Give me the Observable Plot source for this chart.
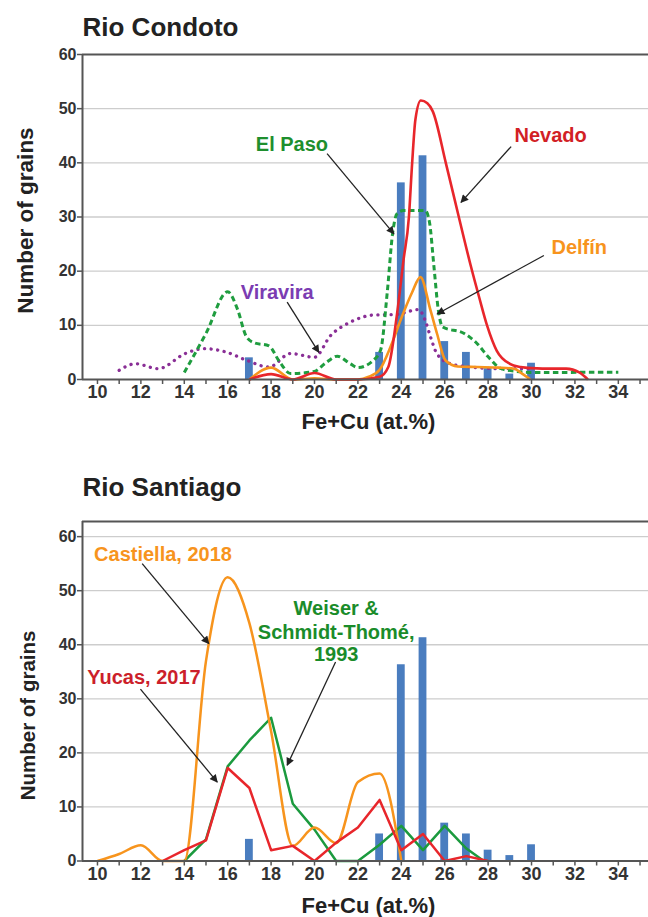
<!DOCTYPE html>
<html><head><meta charset="utf-8">
<script src="https://cdn.jsdelivr.net/npm/d3@7"></script>
<script src="https://cdn.jsdelivr.net/npm/@observablehq/plot@0.6"></script>
<style>
body{margin:0;background:#fff;}
#wrap{position:relative;width:648px;height:917px;overflow:hidden;font-family:"Liberation Sans",Arial,sans-serif;}
#top{position:absolute;left:0;top:0;}
#bot{position:absolute;left:0;top:440px;}
</style></head><body><div id="wrap"><div id="top"></div><div id="bot"></div></div>
<script>
// ---------- data ----------
const histX = [17, 23, 24, 25, 26, 27, 28, 29, 30];
const histN = [4, 5, 36.3, 41.3, 7, 5, 2, 1, 3];

const xTicks = d3.range(10, 36);
const yTicks = [0, 10, 20, 30, 40, 50, 60];
const gridTop = [10, 20, 30, 40, 50];
const gridBot = [10, 20, 30, 40, 50, 60];

// Rio Condoto (smoothed curves)
const nevado = [[17,0],[18,1],[19,0],[20,1.2],[21,0],[22,0],[23,0.5],[23.4,2.3],[23.8,12],[24.1,22],[24.35,30],[24.5,40],[24.65,48],[24.9,51.5],[25.2,51],[25.45,49.5],[26.05,40],[26.65,30],[27.2,21],[27.6,15],[27.95,10],[28.4,5.3],[29,2.9],[29.5,2.3],[30,2.1],[31,2],[31.6,2],[32.2,1.3],[32.6,0]];
const delfin = [[17,0],[18,2.2],[19,0],[20,0.2],[21,0],[22,0],[22.5,0.5],[23,1.8],[23.5,6],[24,11.3],[24.5,16.1],[24.88,18.9],[25.35,12.7],[25.65,8.4],[26.04,3.5],[26.6,2.4],[27.5,2.3],[28.5,2.2],[29.2,2],[29.6,1],[29.95,0]];
const elPaso = [[14,1.3],[15,8.5],[16,16.2],[16.45,13],[16.85,8],[17.2,6.8],[17.9,6.2],[18.4,3.2],[18.9,1.1],[20,1.5],[20.5,3],[21.05,4.3],[21.65,2.9],[22,2.2],[22.7,3.5],[23.05,5.5],[23.35,16],[23.6,27],[23.8,30.6],[24.1,31.2],[25.1,31.2],[25.3,29],[25.5,21],[25.7,13],[25.9,9.7],[26.9,8.5],[27.5,6.6],[28,4.2],[28.6,2],[29.3,1.5],[30,1.3],[34,1.35]];
const viravira = [[11,1.7],[11.75,2.9],[12.8,2],[14.05,4.8],[14.9,5.7],[15.9,5.1],[16.9,3.5],[17.9,2.3],[18.9,4.8],[20,4.1],[20.74,8.1],[21.66,10.6],[22.73,11.9],[23.74,12],[24.8,12.9],[25.1,10.9],[25.35,7.8],[25.65,4.7],[26.27,2.9],[27.2,2.3],[28.5,2],[30,2]];

// Rio Santiago
const castiella = [[10,0],[11,1.3],[12,2.9],[13,0],[14,0],[15,37],[16,52.5],[17,44],[18,24],[19,2.8],[20,6.2],[21,3.3],[22,14.6],[23,16.2],[24,0]];
const yucas = [[13,0],[14,2],[15,3.8],[16,17.2],[17,13.5],[18,2],[19,2.8],[20,0],[21,3.4],[22,6.2],[23,11.3],[24,2],[25,5],[26,0],[27,0.9],[28,0]];
const weiser = [[14,0],[15,4],[16,17.5],[17,22.3],[18,26.5],[19,10.6],[20,5.8],[21,0],[22,0],[23,3],[24,6.5],[25,2],[26,6.5],[27,2.3],[27.8,0]];

const topLabels = [
  {t:"El Paso", x:18.96, y:43.4, c:"#1e8f2e"},
  {t:"Nevado", x:30.88, y:45.1, c:"#d21f26"},
  {t:"Delfín", x:32.2, y:24.4, c:"#f7941d"},
  {t:"Viravira", x:18.28, y:16.0, c:"#7b3cb2"}
];
const topArrows = [
  {x1:20.58, y1:41.7, x2:23.66, y2:26.9},
  {x1:29.06, y1:43.0, x2:26.75, y2:32.7},
  {x1:30.57, y1:22.9, x2:25.65, y2:12.1},
  {x1:18.74, y1:14.3, x2:20.2, y2:5.0}
];
const botLabels = [
  {t:"Castiella, 2018", x:13.02, y:56.7, c:"#f7941d"},
  {t:"Yucas, 2017", x:12.14, y:34.0, c:"#cc1f2b"},
  {t:"Weiser &", x:21.0, y:46.6, c:"#1a8c2a"},
  {t:"Schmidt-Thomé,", x:21.0, y:42.2, c:"#1a8c2a"},
  {t:"1993", x:21.0, y:38.2, c:"#1a8c2a"}
];
const botArrows = [
  {x1:12.06, y1:55.0, x2:15.13, y2:40.2},
  {x1:11.98, y1:31.8, x2:15.52, y2:14.6},
  {x1:20.97, y1:36.8, x2:18.74, y2:17.7}
];

const bars = histX.map((x, i) => ({x, n: histN[i]}));
const XDOM = [9.31, 35.39];
const FONT = '"Liberation Sans", Arial, Helvetica, sans-serif';

function build(o) {
  const marks = [
    Plot.ruleY(o.grid, {stroke: "#cdcdcd", strokeWidth: 1.3}),
    Plot.rect(bars, {x1: d => d.x - 0.18, x2: d => d.x + 0.18, y1: d => 0, y2: d => d.n, fill: "#4a7dbf"}),
    ...o.lines.map(L => Plot.line(L.data, {x: d => d[0], y: d => d[1], stroke: L.color, strokeWidth: L.w,
      strokeDasharray: L.dash, strokeLinecap: L.cap || "butt", strokeLinejoin: "round", curve: L.curve})),
    Plot.ruleX([XDOM[0]], {stroke: "#555", strokeWidth: 2}),
    Plot.ruleY([0], {stroke: "#555", strokeWidth: 2}),
    Plot.ruleY([o.ymax], {stroke: "#555", strokeWidth: 2.2}),
    Plot.axisX(xTicks, {tickSize: 5, tickPadding: 1, fontSize: 18, fontWeight: "bold", stroke: "#555", strokeWidth: 1.5,
      fill: "#333", label: null, tickFormat: d => d % 2 === 0 ? String(d) : ""}),
    Plot.axisY(yTicks, {tickSize: 5, tickPadding: 1, fontSize: 16, fontWeight: "bold", stroke: "#555", strokeWidth: 1.5,
      fill: "#333", label: null}),
    Plot.link(o.arrows, {x1: "x1", y1: "y1", x2: "x2", y2: "y2", stroke: "#222", strokeWidth: 1.3}),
    Plot.text(o.labels, {x: "x", y: "y", text: "t", fill: "c", fontSize: 20, fontWeight: "bold", lineAnchor: "middle"}),
    Plot.text([o.title], {frameAnchor: "top-left", textAnchor: "start", lineAnchor: "middle", dy: o.titleDy,
      fontSize: 26, fontWeight: "bold", fill: "#222"}),
    Plot.text(["Fe+Cu (at.%)"], {frameAnchor: "bottom", textAnchor: "middle", lineAnchor: "middle", dy: o.xlDy, dx: 3,
      fontSize: 22, fontWeight: "bold", fill: "#222"}),
    Plot.text(["Number of grains"], {frameAnchor: "left", textAnchor: "middle", lineAnchor: "middle", rotate: -90,
      dx: o.ylDx, dy: o.ylDy, fontSize: o.ylSize, fontWeight: "bold", fill: "#222"})
  ];
  const svg = Plot.plot({
    width: 648, height: o.height,
    marginLeft: 82, marginRight: 0, marginTop: o.mt, marginBottom: o.mb,
    x: {domain: XDOM},
    y: {domain: [0, o.ymax]},
    style: {fontFamily: FONT, fontSize: "16px", background: "white", overflow: "visible"},
    marks
  });
  // filled arrowheads
  const s = d3.select(svg);
  const defs = s.insert("defs", ":first-child");
  defs.append("marker").attr("id", o.id).attr("viewBox", "0 0 10 10").attr("refX", 9).attr("refY", 5)
    .attr("markerWidth", 12).attr("markerHeight", 8).attr("markerUnits", "userSpaceOnUse").attr("orient", "auto")
    .append("path").attr("d", "M0,0L10,5L0,10z").attr("fill", "#222");
  s.selectAll('g[aria-label="link"] path').attr("marker-end", `url(#${o.id})`);
  return svg;
}

document.getElementById("top").appendChild(build({
  id: "ahTop", height: 440, mt: 54, mb: 61, ymax: 60, grid: gridTop,
  title: "Rio Condoto", titleDy: -27.3, xlDy: 42.8, ylDx: -57, ylDy: 3.5, ylSize: 22.5,
  labels: topLabels, arrows: topArrows,
  lines: [
    {data: viravira, color: "#8a2f96", w: 3.3, dash: "0.1,6.5", cap: "round", curve: "monotone-x"},
    {data: elPaso, color: "#1f9d3f", w: 3, dash: "5.5,3.5", curve: "monotone-x"},
    {data: delfin, color: "#f7941d", w: 2.6, curve: "monotone-x"},
    {data: nevado, color: "#e8262b", w: 2.6, curve: "monotone-x"}
  ]
}));

document.getElementById("bot").appendChild(build({
  id: "ahBot", height: 477, mt: 81, mb: 56.5, ymax: 62.8, grid: gridBot,
  title: "Rio Santiago", titleDy: -34.3, xlDy: 45.2, ylDx: -54, ylDy: 24.2, ylSize: 20.5,
  labels: botLabels, arrows: botArrows,
  lines: [
    {data: weiser, color: "#1b9a3e", w: 2.5, curve: "linear"},
    {data: castiella, color: "#f7941d", w: 2.5, curve: "monotone-x"},
    {data: yucas, color: "#e8262b", w: 2.5, curve: "linear"}
  ]
}));
</script>
</body></html>
